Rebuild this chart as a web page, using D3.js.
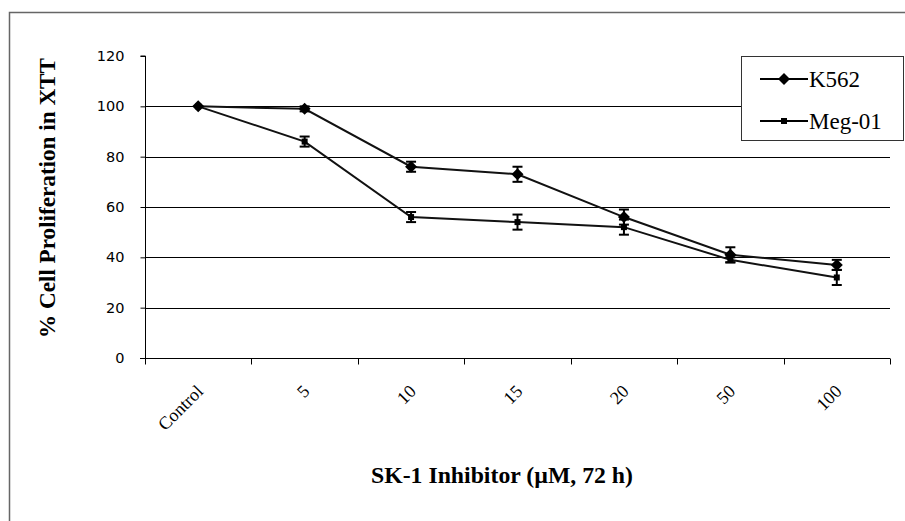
<!DOCTYPE html>
<html>
<head>
<meta charset="utf-8">
<script src="https://cdn.jsdelivr.net/npm/d3@7"></script>
<style>
html,body{margin:0;padding:0;background:#fff;}
svg{display:block;}
.serif{font-family:"Liberation Serif","Times New Roman",Times,"DejaVu Serif",serif;}
</style>
</head>
<body>
<svg id="chart" width="905" height="521"></svg>
<script>
const categories = ["Control", "5", "10", "15", "20", "50", "100"];
const k562Values = [100, 99, 76, 73, 56, 41, 37];
const k562Errors = [0, 1, 2, 3, 3, 3, 2];
const megValues = [100, 86, 56, 54, 52, 39, 32];
const megErrors = [0, 2, 2, 3, 3, 1, 3];
const yTicks = [0, 20, 40, 60, 80, 100, 120];
const gridValues = [20, 40, 60, 80, 100];
const seriesNames = ["K562", "Meg-01"];

(function () {
const svg = d3.select("#chart");
const pLeft = 145, pRight = 890, pTop = 56, pBottom = 358;

function fitWidth(sel, target) {
  const n = sel.node();
  const fs = parseFloat(sel.attr("font-size"));
  const w = n.getComputedTextLength();
  if (w > 0) sel.attr("font-size", (fs * target / w).toFixed(2));
}

// outer frame
svg.append("rect").attr("x", 9.5).attr("y", 12.5).attr("width", 1000).attr("height", 1000)
  .attr("fill", "#fff").attr("stroke", "#666").attr("stroke-width", 1.5);

const x = d3.scaleBand().domain(categories).range([pLeft, pRight]).padding(0);
const y = d3.scaleLinear().domain([0, 120]).range([pBottom, pTop]);

// gridlines
svg.append("g").selectAll("line").data(gridValues).join("line")
  .attr("x1", pLeft).attr("x2", pRight)
  .attr("y1", d => Math.round(y(d)) + 0.5).attr("y2", d => Math.round(y(d)) + 0.5)
  .attr("stroke", "#000").attr("stroke-width", 1);

// y axis
const yAxis = svg.append("g").attr("transform", `translate(${pLeft + 0.5},0)`)
  .call(d3.axisLeft(y).tickValues(yTicks).tickSize(5).tickPadding(16));
yAxis.select(".domain").attr("stroke", "#000").attr("d", `M-5,${y(120)}H0V${pBottom}`);
yAxis.selectAll("text").attr("font-family", "DejaVu Sans").attr("font-size", 14.5).attr("fill", "#000");

// x axis
const xAxis = svg.append("g").attr("transform", `translate(0,${pBottom + 0.5})`);
xAxis.append("line").attr("x1", pLeft - 5).attr("x2", pRight).attr("y1", 0).attr("y2", 0).attr("stroke", "#000");
const boundaries = categories.map(c => x(c)).concat([pRight]);
xAxis.selectAll("line.tick").data(boundaries).join("line").attr("class", "tick")
  .attr("x1", d => Math.round(d) + 0.5).attr("x2", d => Math.round(d) + 0.5)
  .attr("y1", 0).attr("y2", 6).attr("stroke", "#000");
xAxis.selectAll("text").data(categories).join("text").attr("class", "serif")
  .attr("transform", d => `translate(${x(d) + x.bandwidth() / 2 + 6},${392 - pBottom}) rotate(-45)`)
  .attr("text-anchor", "end")
  .attr("font-size", 18).attr("fill", "#000")
  .text(d => d);

const line = d3.line().x((d, i) => x(categories[i]) + x.bandwidth() / 2).y(d => y(d));

function drawSeries(values, errors, marker) {
  const g = svg.append("g");
  g.append("path").datum(values).attr("d", line).attr("fill", "none")
    .attr("stroke", "#111").attr("stroke-width", 2);
  const pts = values.map((v, i) => ({v, e: errors[i], cx: x(categories[i]) + x.bandwidth() / 2}));
  const eb = g.selectAll("g.err").data(pts.filter(p => p.e > 0)).join("g").attr("class", "err");
  eb.append("line").attr("x1", p => p.cx).attr("x2", p => p.cx)
    .attr("y1", p => y(p.v - p.e)).attr("y2", p => y(p.v + p.e)).attr("stroke", "#000").attr("stroke-width", 2);
  eb.append("line").attr("x1", p => p.cx - 5).attr("x2", p => p.cx + 5)
    .attr("y1", p => y(p.v - p.e)).attr("y2", p => y(p.v - p.e)).attr("stroke", "#000").attr("stroke-width", 2);
  eb.append("line").attr("x1", p => p.cx - 5).attr("x2", p => p.cx + 5)
    .attr("y1", p => y(p.v + p.e)).attr("y2", p => y(p.v + p.e)).attr("stroke", "#000").attr("stroke-width", 2);
  g.selectAll("path.m").data(pts).join("path").attr("class", "m")
    .attr("transform", p => `translate(${p.cx},${y(p.v)})`)
    .attr("d", marker).attr("fill", "#000");
}
const diamond = "M0,-6L6,0L0,6L-6,0Z";
const square = "M-3,-3H3V3H-3Z";
drawSeries(megValues, megErrors, square);
drawSeries(k562Values, k562Errors, diamond);

// legend
const lg = svg.append("g");
lg.append("rect").attr("x", 741.5).attr("y", 56.5).attr("width", 162).attr("height", 84)
  .attr("fill", "#fff").attr("stroke", "#333").attr("stroke-width", 1);
const legendY = [79, 121];
const markers = [diamond, square];
seriesNames.forEach((name, i) => {
  lg.append("line").attr("x1", 760).attr("x2", 808).attr("y1", legendY[i]).attr("y2", legendY[i])
    .attr("stroke", "#000").attr("stroke-width", 2);
  lg.append("path").attr("transform", `translate(784,${legendY[i]})`).attr("d", markers[i]).attr("fill", "#000");
  lg.append("text").attr("class", "serif").attr("x", 809).attr("y", legendY[i] + 8)
    .attr("font-size", 23).attr("fill", "#000").text(name);
});

// axis titles
const yt = svg.append("text").attr("class", "serif").attr("transform", "translate(55,198) rotate(-90)").attr("text-anchor", "middle")
  .attr("font-weight", "bold").attr("font-size", 20)
  .attr("fill", "#000").text("% Cell Proliferation in XTT");
fitWidth(yt, 280);
const xt = svg.append("text").attr("class", "serif").attr("x", 502).attr("y", 483).attr("text-anchor", "middle")
  .attr("font-weight", "bold").attr("font-size", 20)
  .attr("fill", "#000").text("SK-1 Inhibitor (µM, 72 h)");
fitWidth(xt, 262);
})();
</script>
</body>
</html>
